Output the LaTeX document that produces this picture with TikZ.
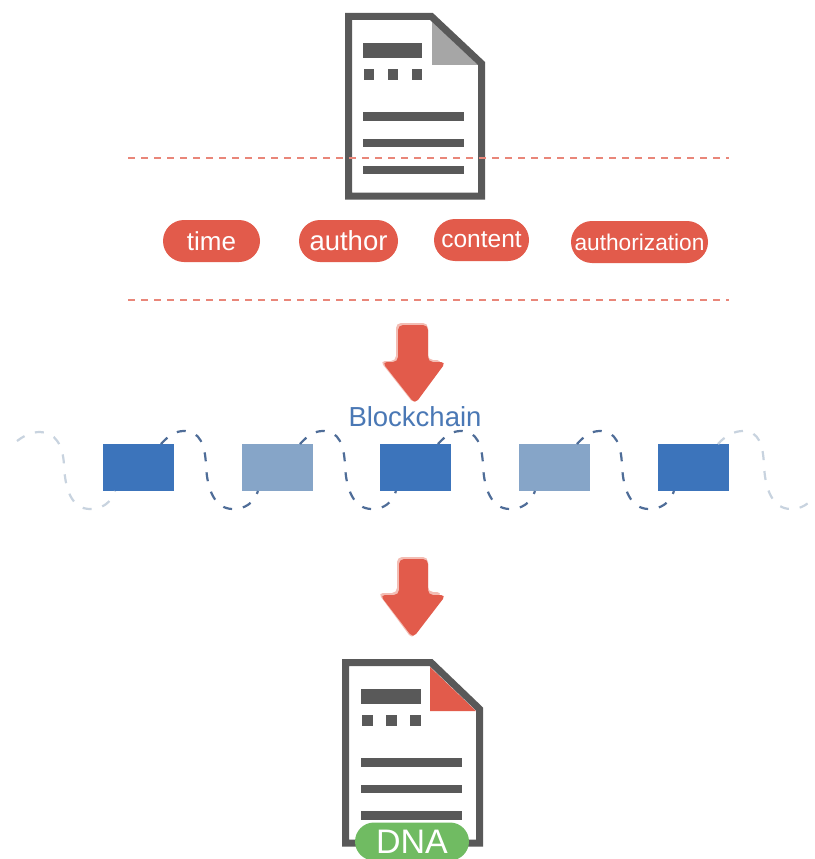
\documentclass[tikz,border=0pt]{standalone}
\usepackage{fontspec}
\setmainfont{Liberation Sans}
\usetikzlibrary{calc,shapes.misc}
\definecolor{docgray}{HTML}{595959}
\definecolor{foldgray}{HTML}{A6A6A6}
\definecolor{redmain}{HTML}{E25B4B}
\definecolor{redline}{HTML}{E98679}
\definecolor{pinkedge}{HTML}{F3BDB4}
\definecolor{bluedark}{HTML}{3C74BB}
\definecolor{bluelight}{HTML}{86A5C8}
\definecolor{bluetext}{HTML}{4A78B5}
\definecolor{wavedark}{HTML}{4F6D98}
\definecolor{wavelight}{HTML}{C8D3DF}
\definecolor{greenpill}{HTML}{70BB62}
\tikzset{
  x=1pt,y=-1pt,
  docoutline/.style={draw=docgray,line width=7pt,miter limit=10},
  docbar/.style={fill=docgray},
  sepline/.style={draw=redline,line width=1.4pt,dash pattern=on 7pt off 6pt},
  pill/.style={rounded rectangle,fill=redmain,text=white,inner sep=0pt,outer sep=0pt,minimum height=42pt},
  chainbox/.style={rectangle,inner sep=0pt,outer sep=0pt,minimum width=71pt,minimum height=47pt},
  wavelink/.style={line width=2.2pt,dash pattern=on 9pt off 11pt,draw=wavedark},
  wavefaint/.style={line width=2.2pt,dash pattern=on 9pt off 11pt,draw=wavelight},
  arrowbody/.style={fill=redmain,rounded corners=5pt},
  arrowedge/.style={fill=pinkedge,rounded corners=5pt}
}
\newcommand{\linkboxes}[2]{%
  \draw[wavelink] ($(#1.north east)+(-13,0)$)
    .. controls ($(#1.north east)+(-5,-9)$) and ($(#1.north east)+(2,-13)$) .. ($(#1.north east)+(10,-13)$)
    .. controls ($(#1.north east)+(26,-13)$) and ($(#1.north east)+(31,1)$) .. ($(#1.north east)+(32,21)$)
    .. controls ($(#1.north east)+(33,46)$) and ($(#1.north east)+(41,65)$) .. ($(#1.north east)+(59,65)$)
    .. controls ($(#1.north east)+(71,65)$) and ($(#2.south west)+(12,12)$) .. ($(#2.south west)+(16,0)$);}
\begin{document}
\begin{tikzpicture}
\useasboundingbox (0,0) rectangle (814,859);
\fill[white] (0,0) rectangle (814,859);

% top document
\fill[foldgray] (432,21) -- (432,65) -- (478,65) -- cycle;
\draw[docoutline] (348.5,16.5) -- (431.5,16.5) -- (481.5,63.5) -- (481.5,196) -- (348.5,196) -- cycle;
\fill[docbar] (363,43) rectangle (422,58);
\fill[docbar] (364,69) rectangle (374,80);
\fill[docbar] (388,69) rectangle (398,80);
\fill[docbar] (412,69) rectangle (422,80);
\fill[docbar] (363,112) rectangle (464,121);
\fill[docbar] (363,139) rectangle (464,147);
\fill[docbar] (363,166) rectangle (464,174);

% separators
\coordinate (sepAl) at (128,158); \coordinate (sepAr) at (729,158);
\coordinate (sepBl) at (128,300); \coordinate (sepBr) at (729,300);
\draw[sepline] (sepAl) -- (sepAr);
\draw[sepline] (sepBl) -- (sepBr);

% pills
\node[pill,minimum width=97pt,font=\fontsize{26}{26}\selectfont] (time) at (211.5,241) {time};
\node[pill,minimum width=99pt,font=\fontsize{27.5}{27.5}\selectfont] (author) at (348.5,241) {author};
\node[pill,minimum width=95pt,font=\fontsize{24.5}{24.5}\selectfont] (content) at (481.5,240) {content};
\node[pill,minimum width=137pt,font=\fontsize{22.7}{22.7}\selectfont] (authorization) at (639.5,242) {authorization};

% arrow 1
\fill[arrowedge] (396,323) -- (428,323) -- (428,360) -- (442,360) -- (414,404) -- (380,361) -- (396,361) -- cycle;
\fill[arrowbody] (398,325) -- (428,325) -- (428,362) -- (446,362) -- (415,404) -- (382,362) -- (398,362) -- cycle;
\node[text=bluetext,font=\fontsize{27.5}{27.5}\selectfont,inner sep=0pt] (chainlabel) at (415,417) {Blockchain};

% chain
\node[chainbox,fill=bluedark] (r1) at (138.5,467.5) {};
\node[chainbox,fill=bluelight] (r2) at (277.5,467.5) {};
\node[chainbox,fill=bluedark] (r3) at (415.5,467.5) {};
\node[chainbox,fill=bluelight] (r4) at (554.5,467.5) {};
\node[chainbox,fill=bluedark] (r5) at (693.5,467.5) {};
\coordinate (wl) at (17,441);
\coordinate (wr) at (814,495);
\draw[wavefaint] (wl) .. controls (25,435) and (32,432) .. (40,432)
  .. controls (55,432) and (63,445) .. (64,465)
  .. controls (65,490) and (72,509) .. (90,509)
  .. controls (102,509) and (111,503) .. (115,491);
\draw[wavefaint] ($(r5.north east)+(-11,0)$) .. controls ($(r5.north east)+(-3,-9)$) and ($(r5.north east)+(6,-13)$) .. ($(r5.north east)+(14,-13)$)
  .. controls ($(r5.north east)+(30,-13)$) and ($(r5.north east)+(34,1)$) .. ($(r5.north east)+(35,21)$)
  .. controls ($(r5.north east)+(36,46)$) and ($(r5.north east)+(44,65)$) .. ($(r5.north east)+(62,65)$)
  .. controls ($(r5.north east)+(72,65)$) and ($(r5.north east)+(81,60)$) .. (wr);
\linkboxes{r1}{r2}
\linkboxes{r2}{r3}
\linkboxes{r3}{r4}
\linkboxes{r4}{r5}

% arrow 2
\fill[arrowedge] (397,557) -- (428,557) -- (428,592) -- (442,592) -- (412,639) -- (378,593) -- (397,593) -- cycle;
\fill[arrowbody] (399,559) -- (428,559) -- (428,595) -- (446,595) -- (413,638) -- (380,595) -- (399,595) -- cycle;

% bottom document
\fill[redmain] (430,667) -- (430,711) -- (476,711) -- cycle;
\draw[docoutline] (345.5,662.5) -- (431,662.5) -- (479.5,709) -- (479.5,843) -- (345.5,843) -- cycle;
\fill[docbar] (361,689) rectangle (421,704);
\fill[docbar] (362,715) rectangle (373,726);
\fill[docbar] (386,715) rectangle (397,726);
\fill[docbar] (410,715) rectangle (421,726);
\fill[docbar] (361,758) rectangle (462,767);
\fill[docbar] (361,785) rectangle (462,793);
\fill[docbar] (361,811) rectangle (462,820);
\node[rounded rectangle,fill=greenpill,text=white,inner sep=0pt,minimum width=114pt,minimum height=38pt,font=\fontsize{34}{34}\selectfont] (dna) at (412,841.5) {DNA};
\end{tikzpicture}
\end{document}
